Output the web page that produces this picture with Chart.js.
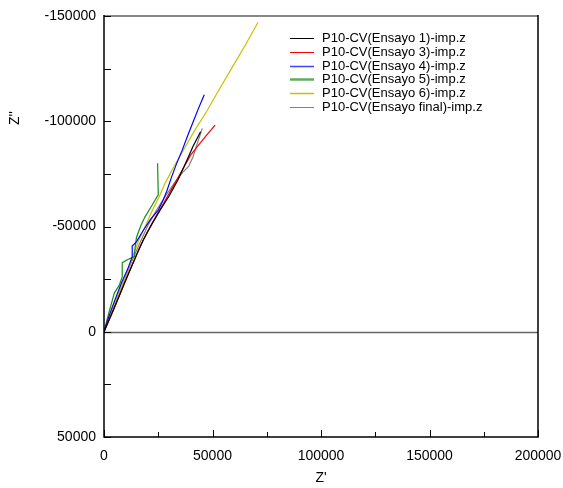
<!DOCTYPE html>
<html>
<head>
<meta charset="utf-8">
<script src="https://cdn.jsdelivr.net/npm/chart.js@4/dist/chart.umd.min.js"></script>
<style>
  html, body { margin: 0; padding: 0; background: #fff; }
</style>
</head>
<body>
<canvas id="c" width="563" height="488"></canvas>
<script>
// Nyquist data, Z' (real) vs Z'' (imaginary), in ohm
const labels = [
  "P10-CV(Ensayo 1)-imp.z",
  "P10-CV(Ensayo 3)-imp.z",
  "P10-CV(Ensayo 4)-imp.z",
  "P10-CV(Ensayo 5)-imp.z",
  "P10-CV(Ensayo 6)-imp.z",
  "P10-CV(Ensayo final)-imp.z"
];

const ensayo1X = [0, 5000, 10000, 15000, 18000, 22000, 26000, 30000, 34000, 38000, 41000, 44500];
const ensayo1Y = [0, -12000, -24500, -36500, -43500, -51000, -58000, -64500, -72000, -81000, -88000, -95000];

const ensayo3X = [0, 4000, 8000, 12000, 16000, 20000, 24000, 28000, 31000, 34000, 37000, 40000, 43000, 47000, 51200];
const ensayo3Y = [0, -9500, -19500, -29500, -39000, -47500, -55000, -62000, -67500, -73000, -78500, -84000, -88000, -93000, -98200];

const ensayo4X = [0, 2500, 5000, 8000, 11000, 13000, 13000, 15000, 18000, 21500, 25000, 27300, 29000, 31200, 33500, 36100, 38500, 41000, 43500, 46200];
const ensayo4Y = [0, -8000, -15000, -23000, -30000, -35700, -40700, -42800, -48000, -53500, -57800, -62600, -67000, -73700, -80000, -86400, -93000, -99500, -106000, -112600];

const ensayo5X = [0, 2500, 4800, 7000, 8400, 8400, 11000, 14000, 14300, 15000, 17000, 18900, 21500, 23500, 25000, 24700];
const ensayo5Y = [0, -10000, -18500, -22000, -26000, -32800, -34300, -35700, -40000, -44900, -50500, -54600, -59000, -62500, -65000, -80000];

const ensayo6X = [0, 3000, 6000, 9000, 12000, 14000, 16000, 18900, 22000, 25800, 28100, 32000, 37300, 42000, 47500, 53000, 59000, 65000, 71000];
const ensayo6Y = [0, -8000, -16000, -24000, -32000, -38000, -43500, -49900, -57000, -65000, -70500, -78000, -87500, -96000, -105000, -115000, -125500, -136000, -147000];

const finalX = [0, 4000, 8000, 12000, 16000, 20000, 24000, 28000, 32000, 36000, 39000, 41000, 43000, 45300];
const finalY = [0, -10500, -21000, -31500, -41000, -50000, -57500, -64000, -70000, -75500, -78500, -83000, -89500, -96600];

const tickValuesX = [0, 50000, 100000, 150000, 200000];
const tickValuesY = [-150000, -100000, -50000, 0, 50000];

const seriesX = [ensayo1X, ensayo3X, ensayo4X, ensayo5X, ensayo6X, finalX];
const seriesY = [ensayo1Y, ensayo3Y, ensayo4Y, ensayo5Y, ensayo6Y, finalY];
const colors = ["#000000", "#ff0000", "#0000ff", "#1a8a1a", "#c8c000", "#808080"];
const legendColors = ["#000000", "#ff0000", "#4040ff", "#5fae5f", "#c8c000", "#808080"];
const legendWidths = [1, 1, 1.5, 2.5, 1.5, 1];

const FONT = "'Liberation Sans', Arial, sans-serif";

const datasets = labels.map((label, i) => ({
  label,
  data: seriesX[i].map((x, j) => ({ x, y: seriesY[i][j] })),
  showLine: true,
  borderColor: colors[i],
  backgroundColor: colors[i],
  borderWidth: 1.2,
  pointRadius: 0,
  tension: 0
}));

const framePlugin = {
  id: 'frame',
  beforeDatasetsDraw(chart) {
    const { ctx, chartArea: a, scales: { y } } = chart;
    const y0 = Math.round(y.getPixelForValue(0)) + 0.5;
    ctx.save();
    ctx.strokeStyle = '#666';
    ctx.lineWidth = 1.5;
    ctx.beginPath();
    ctx.moveTo(a.left, y0);
    ctx.lineTo(a.right, y0);
    ctx.stroke();
    ctx.restore();
  },
  afterDraw(chart) {
    const { ctx, chartArea: a, scales: { x, y } } = chart;
    ctx.save();
    // frame
    ctx.lineWidth = 2;
    ctx.strokeStyle = '#888';
    ctx.beginPath();
    ctx.moveTo(a.left, a.top);
    ctx.lineTo(a.right, a.top);
    ctx.stroke();
    ctx.strokeStyle = '#000';
    ctx.lineWidth = 1.5;
    ctx.beginPath();
    ctx.moveTo(a.left, a.top - 1);
    ctx.lineTo(a.left, a.bottom);
    ctx.lineTo(a.right, a.bottom);
    ctx.lineTo(a.right, a.top - 1);
    ctx.stroke();
    // inward ticks
    ctx.lineWidth = 1;
    for (let v = -150000; v <= 50000; v += 25000) {
      const py = Math.round(y.getPixelForValue(v)) + 0.5;
      ctx.beginPath();
      ctx.moveTo(a.left, py);
      ctx.lineTo(a.left + 7, py);
      ctx.stroke();
    }
    for (let v = 0; v <= 200000; v += 25000) {
      const px = Math.round(x.getPixelForValue(v)) + 0.5;
      const len = v % 50000 === 0 ? 7 : 5;
      ctx.beginPath();
      ctx.moveTo(px, a.bottom);
      ctx.lineTo(px, a.bottom - len);
      ctx.stroke();
    }
    // axis titles
    ctx.fillStyle = '#000';
    ctx.font = '14px ' + FONT;
    ctx.textAlign = 'center';
    ctx.textBaseline = 'middle';
    ctx.fillText("Z'", 321, 478);
    ctx.save();
    ctx.translate(15, 118);
    ctx.rotate(-Math.PI / 2);
    ctx.fillText("Z''", 0, 0);
    ctx.restore();
    // legend
    ctx.font = '13px ' + FONT;
    ctx.textAlign = 'left';
    chart.data.datasets.forEach((ds, i) => {
      const cy = 38 + i * 13.8;
      ctx.strokeStyle = legendColors[i];
      ctx.lineWidth = legendWidths[i];
      ctx.beginPath();
      ctx.moveTo(290, Math.round(cy) + 0.5);
      ctx.lineTo(314, Math.round(cy) + 0.5);
      ctx.stroke();
      ctx.fillStyle = '#000';
      ctx.fillText(ds.label, 322, cy + 0.5);
    });
    ctx.restore();
  }
};

new Chart(document.getElementById('c'), {
  type: 'scatter',
  data: { datasets },
  options: {
    responsive: false,
    animation: false,
    layout: { padding: { top: 16, right: 25, left: 0, bottom: 0 } },
    plugins: { legend: { display: false }, tooltip: { enabled: false } },
    scales: {
      x: {
        type: 'linear',
        min: 0,
        max: 200000,
        afterFit(s) { s.height = 51; s.paddingLeft = 0; s.paddingRight = 0; },
        grid: { display: false },
        border: { display: false },
        afterBuildTicks(s) { s.ticks = tickValuesX.map(value => ({ value })); },
        ticks: {
          autoSkip: false,
          maxRotation: 0,
          padding: 3,
          color: '#000',
          font: { size: 14, family: FONT },
          callback: v => String(v)
        }
      },
      y: {
        type: 'linear',
        min: -150000,
        max: 50000,
        reverse: true,
        afterFit(s) { s.width = 104; s.paddingTop = 0; s.paddingBottom = 0; },
        grid: { display: false },
        border: { display: false },
        afterBuildTicks(s) { s.ticks = tickValuesY.map(value => ({ value })); },
        ticks: {
          autoSkip: false,
          padding: 0,
          color: '#000',
          font: { size: 14, family: FONT },
          callback: v => String(v)
        }
      }
    }
  },
  plugins: [framePlugin]
});
</script>
</body>
</html>
